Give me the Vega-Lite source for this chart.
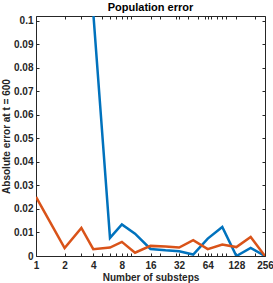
{
  "$schema": "https://vega.github.io/schema/vega-lite/v6.json",
  "width": 229,
  "height": 240,
  "autosize": {"type": "none"},
  "padding": {"left": 36, "top": 16, "right": 8, "bottom": 27},
  "title": {"text": "Population error", "fontSize": 11, "font": "Liberation Sans", "fontWeight": "bold", "color": "#000000", "anchor": "middle", "offset": 3},
  "config": {
    "view": {"stroke": "#262626", "strokeWidth": 1},
    "axis": {"domain": false, "grid": false, "tickColor": "#262626", "tickSize": -3, "tickWidth": 1, "labelFont": "Liberation Sans", "labelFontWeight": "bold", "labelFontSize": 10, "labelColor": "#262626", "titleFont": "Liberation Sans", "titleFontWeight": "bold", "titleFontSize": 10, "titleColor": "#262626"}
  },
  "data": {"values": [
    {"n": 4, "err": 0.1035, "series": "A"},
    {"n": 6, "err": 0.0077, "series": "A"},
    {"n": 8, "err": 0.0134, "series": "A"},
    {"n": 11, "err": 0.0095, "series": "A"},
    {"n": 16, "err": 0.003, "series": "A"},
    {"n": 23, "err": 0.0024, "series": "A"},
    {"n": 32, "err": 0.002, "series": "A"},
    {"n": 45, "err": 0.0006, "series": "A"},
    {"n": 64, "err": 0.0074, "series": "A"},
    {"n": 91, "err": 0.0123, "series": "A"},
    {"n": 128, "err": 0.0, "series": "A"},
    {"n": 181, "err": 0.0034, "series": "A"},
    {"n": 256, "err": 0.0, "series": "A"},
    {"n": 1, "err": 0.0251, "series": "B"},
    {"n": 2, "err": 0.0034, "series": "B"},
    {"n": 3, "err": 0.0119, "series": "B"},
    {"n": 4, "err": 0.0029, "series": "B"},
    {"n": 6, "err": 0.0036, "series": "B"},
    {"n": 8, "err": 0.006, "series": "B"},
    {"n": 11, "err": 0.0014, "series": "B"},
    {"n": 16, "err": 0.0043, "series": "B"},
    {"n": 23, "err": 0.004, "series": "B"},
    {"n": 32, "err": 0.0036, "series": "B"},
    {"n": 45, "err": 0.0067, "series": "B"},
    {"n": 64, "err": 0.0029, "series": "B"},
    {"n": 91, "err": 0.0049, "series": "B"},
    {"n": 128, "err": 0.0038, "series": "B"},
    {"n": 181, "err": 0.0081, "series": "B"},
    {"n": 256, "err": 0.0, "series": "B"}
  ]},
  "resolve": {"axis": {"x": "independent", "y": "independent"}},
  "layer": [
    {
      "mark": {"type": "line", "clip": true, "strokeWidth": 2.5, "strokeJoin": "miter"},
      "encoding": {
        "x": {"field": "n", "type": "quantitative", "scale": {"type": "log", "base": 2, "domain": [1, 256], "nice": false},
              "axis": {"orient": "bottom", "values": [1, 2, 4, 8, 16, 32, 64, 128, 256], "format": "d", "labelPadding": 7, "title": "Number of substeps", "titlePadding": 2, "labelFlush": false}},
        "y": {"field": "err", "type": "quantitative", "scale": {"domain": [0, 0.102], "nice": false, "zero": false},
              "axis": {"orient": "left", "values": [0, 0.01, 0.02, 0.03, 0.04, 0.05, 0.06, 0.07, 0.08, 0.09, 0.1], "labelExpr": "datum.value == 0 ? '0' : format(datum.value, '.2~f')", "labelPadding": 6, "title": "Absolute error at t = 600", "titlePadding": 2}},
        "color": {"field": "series", "type": "nominal", "scale": {"domain": ["A", "B"], "range": ["#0072BD", "#D95319"]}, "legend": null}
      }
    },
    {
      "mark": {"type": "point", "opacity": 0, "clip": true},
      "encoding": {
        "x": {"field": "n", "type": "quantitative", "scale": {"type": "log", "base": 2, "domain": [1, 256], "nice": false},
              "axis": {"orient": "top", "values": [1, 2, 4, 8, 16, 32, 64, 128, 256], "labels": false, "title": null}},
        "y": {"field": "err", "type": "quantitative", "scale": {"domain": [0, 0.102], "nice": false, "zero": false},
              "axis": {"orient": "right", "values": [0, 0.01, 0.02, 0.03, 0.04, 0.05, 0.06, 0.07, 0.08, 0.09, 0.1], "labels": false, "title": null}}
      }
    },
    {
      "mark": {"type": "point", "opacity": 0, "clip": true},
      "encoding": {
        "x": {"field": "n", "type": "quantitative", "scale": {"type": "log", "base": 2, "domain": [1, 256], "nice": false},
              "axis": {"orient": "bottom", "values": [3, 5, 6, 7, 9, 10, 20, 30, 40, 50, 60, 70, 80, 90, 100, 200], "labels": false, "title": null}},
        "y": {"field": "err", "type": "quantitative", "scale": {"domain": [0, 0.102], "nice": false, "zero": false}, "axis": null}
      }
    },
    {
      "mark": {"type": "point", "opacity": 0, "clip": true},
      "encoding": {
        "x": {"field": "n", "type": "quantitative", "scale": {"type": "log", "base": 2, "domain": [1, 256], "nice": false},
              "axis": {"orient": "top", "values": [3, 5, 6, 7, 9, 10, 20, 30, 40, 50, 60, 70, 80, 90, 100, 200], "labels": false, "title": null}},
        "y": {"field": "err", "type": "quantitative", "scale": {"domain": [0, 0.102], "nice": false, "zero": false}, "axis": null}
      }
    }
  ]
}
